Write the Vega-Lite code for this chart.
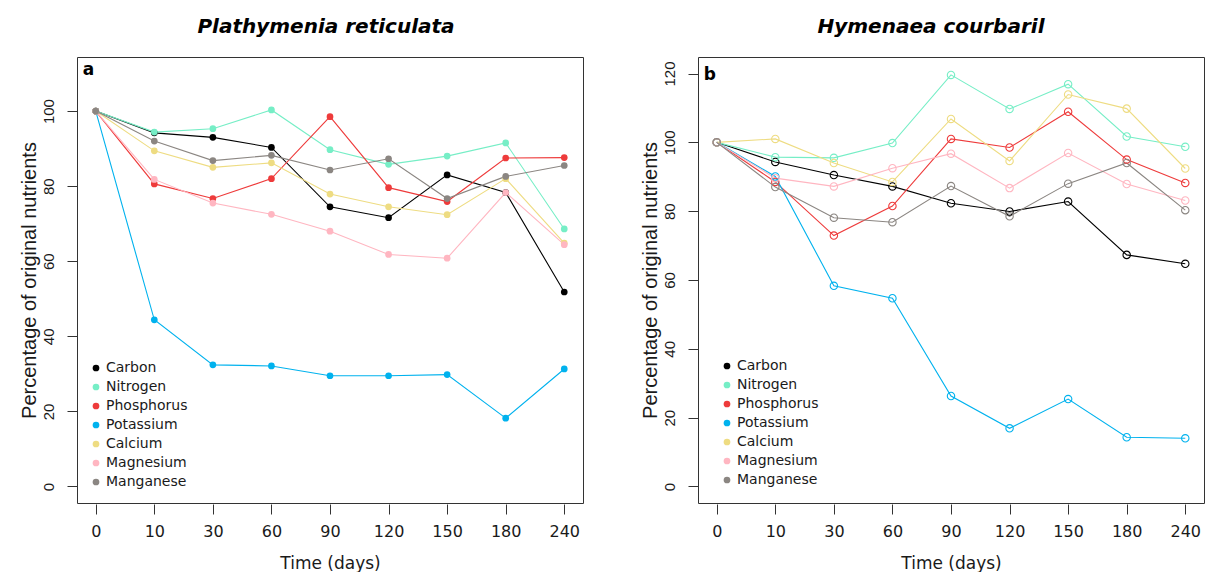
{
  "$schema": "https://vega.github.io/schema/vega-lite/v6.json",
  "background": "white",
  "padding": {"left": 18, "top": 16, "right": 2, "bottom": 2},
  "spacing": 55,
  "datasets": {
    "nut": [
      {"species": "Plathymenia reticulata", "nutrient": "Carbon", "day": 0, "value": 100},
      {"species": "Plathymenia reticulata", "nutrient": "Carbon", "day": 10, "value": 94.2},
      {"species": "Plathymenia reticulata", "nutrient": "Carbon", "day": 30, "value": 93.0},
      {"species": "Plathymenia reticulata", "nutrient": "Carbon", "day": 60, "value": 90.3},
      {"species": "Plathymenia reticulata", "nutrient": "Carbon", "day": 90, "value": 74.5},
      {"species": "Plathymenia reticulata", "nutrient": "Carbon", "day": 120, "value": 71.6},
      {"species": "Plathymenia reticulata", "nutrient": "Carbon", "day": 150, "value": 83.0},
      {"species": "Plathymenia reticulata", "nutrient": "Carbon", "day": 180, "value": 78.3},
      {"species": "Plathymenia reticulata", "nutrient": "Carbon", "day": 240, "value": 51.8},
      {"species": "Plathymenia reticulata", "nutrient": "Nitrogen", "day": 0, "value": 100},
      {"species": "Plathymenia reticulata", "nutrient": "Nitrogen", "day": 10, "value": 94.4},
      {"species": "Plathymenia reticulata", "nutrient": "Nitrogen", "day": 30, "value": 95.3},
      {"species": "Plathymenia reticulata", "nutrient": "Nitrogen", "day": 60, "value": 100.3},
      {"species": "Plathymenia reticulata", "nutrient": "Nitrogen", "day": 90, "value": 89.7},
      {"species": "Plathymenia reticulata", "nutrient": "Nitrogen", "day": 120, "value": 85.8},
      {"species": "Plathymenia reticulata", "nutrient": "Nitrogen", "day": 150, "value": 88.0},
      {"species": "Plathymenia reticulata", "nutrient": "Nitrogen", "day": 180, "value": 91.5},
      {"species": "Plathymenia reticulata", "nutrient": "Nitrogen", "day": 240, "value": 68.6},
      {"species": "Plathymenia reticulata", "nutrient": "Phosphorus", "day": 0, "value": 100},
      {"species": "Plathymenia reticulata", "nutrient": "Phosphorus", "day": 10, "value": 80.6},
      {"species": "Plathymenia reticulata", "nutrient": "Phosphorus", "day": 30, "value": 76.7},
      {"species": "Plathymenia reticulata", "nutrient": "Phosphorus", "day": 60, "value": 82.0},
      {"species": "Plathymenia reticulata", "nutrient": "Phosphorus", "day": 90, "value": 98.5},
      {"species": "Plathymenia reticulata", "nutrient": "Phosphorus", "day": 120, "value": 79.6},
      {"species": "Plathymenia reticulata", "nutrient": "Phosphorus", "day": 150, "value": 75.9},
      {"species": "Plathymenia reticulata", "nutrient": "Phosphorus", "day": 180, "value": 87.5},
      {"species": "Plathymenia reticulata", "nutrient": "Phosphorus", "day": 240, "value": 87.6},
      {"species": "Plathymenia reticulata", "nutrient": "Potassium", "day": 0, "value": 100},
      {"species": "Plathymenia reticulata", "nutrient": "Potassium", "day": 10, "value": 44.4},
      {"species": "Plathymenia reticulata", "nutrient": "Potassium", "day": 30, "value": 32.4},
      {"species": "Plathymenia reticulata", "nutrient": "Potassium", "day": 60, "value": 32.1},
      {"species": "Plathymenia reticulata", "nutrient": "Potassium", "day": 90, "value": 29.5},
      {"species": "Plathymenia reticulata", "nutrient": "Potassium", "day": 120, "value": 29.5},
      {"species": "Plathymenia reticulata", "nutrient": "Potassium", "day": 150, "value": 29.8},
      {"species": "Plathymenia reticulata", "nutrient": "Potassium", "day": 180, "value": 18.2},
      {"species": "Plathymenia reticulata", "nutrient": "Potassium", "day": 240, "value": 31.3},
      {"species": "Plathymenia reticulata", "nutrient": "Calcium", "day": 0, "value": 100},
      {"species": "Plathymenia reticulata", "nutrient": "Calcium", "day": 10, "value": 89.4},
      {"species": "Plathymenia reticulata", "nutrient": "Calcium", "day": 30, "value": 85.0},
      {"species": "Plathymenia reticulata", "nutrient": "Calcium", "day": 60, "value": 86.2},
      {"species": "Plathymenia reticulata", "nutrient": "Calcium", "day": 90, "value": 77.9},
      {"species": "Plathymenia reticulata", "nutrient": "Calcium", "day": 120, "value": 74.5},
      {"species": "Plathymenia reticulata", "nutrient": "Calcium", "day": 150, "value": 72.4},
      {"species": "Plathymenia reticulata", "nutrient": "Calcium", "day": 180, "value": 82.0},
      {"species": "Plathymenia reticulata", "nutrient": "Calcium", "day": 240, "value": 64.8},
      {"species": "Plathymenia reticulata", "nutrient": "Magnesium", "day": 0, "value": 100},
      {"species": "Plathymenia reticulata", "nutrient": "Magnesium", "day": 10, "value": 81.8},
      {"species": "Plathymenia reticulata", "nutrient": "Magnesium", "day": 30, "value": 75.5},
      {"species": "Plathymenia reticulata", "nutrient": "Magnesium", "day": 60, "value": 72.5},
      {"species": "Plathymenia reticulata", "nutrient": "Magnesium", "day": 90, "value": 68.0},
      {"species": "Plathymenia reticulata", "nutrient": "Magnesium", "day": 120, "value": 61.8},
      {"species": "Plathymenia reticulata", "nutrient": "Magnesium", "day": 150, "value": 60.8},
      {"species": "Plathymenia reticulata", "nutrient": "Magnesium", "day": 180, "value": 78.3},
      {"species": "Plathymenia reticulata", "nutrient": "Magnesium", "day": 240, "value": 64.4},
      {"species": "Plathymenia reticulata", "nutrient": "Manganese", "day": 0, "value": 100},
      {"species": "Plathymenia reticulata", "nutrient": "Manganese", "day": 10, "value": 92.0},
      {"species": "Plathymenia reticulata", "nutrient": "Manganese", "day": 30, "value": 86.8},
      {"species": "Plathymenia reticulata", "nutrient": "Manganese", "day": 60, "value": 88.2},
      {"species": "Plathymenia reticulata", "nutrient": "Manganese", "day": 90, "value": 84.3},
      {"species": "Plathymenia reticulata", "nutrient": "Manganese", "day": 120, "value": 87.3},
      {"species": "Plathymenia reticulata", "nutrient": "Manganese", "day": 150, "value": 76.7},
      {"species": "Plathymenia reticulata", "nutrient": "Manganese", "day": 180, "value": 82.6},
      {"species": "Plathymenia reticulata", "nutrient": "Manganese", "day": 240, "value": 85.5},
      {"species": "Hymenaea courbaril", "nutrient": "Carbon", "day": 0, "value": 100},
      {"species": "Hymenaea courbaril", "nutrient": "Carbon", "day": 10, "value": 94.3},
      {"species": "Hymenaea courbaril", "nutrient": "Carbon", "day": 30, "value": 90.5},
      {"species": "Hymenaea courbaril", "nutrient": "Carbon", "day": 60, "value": 87.2},
      {"species": "Hymenaea courbaril", "nutrient": "Carbon", "day": 90, "value": 82.3},
      {"species": "Hymenaea courbaril", "nutrient": "Carbon", "day": 120, "value": 79.9},
      {"species": "Hymenaea courbaril", "nutrient": "Carbon", "day": 150, "value": 82.8},
      {"species": "Hymenaea courbaril", "nutrient": "Carbon", "day": 180, "value": 67.3},
      {"species": "Hymenaea courbaril", "nutrient": "Carbon", "day": 240, "value": 64.7},
      {"species": "Hymenaea courbaril", "nutrient": "Nitrogen", "day": 0, "value": 100},
      {"species": "Hymenaea courbaril", "nutrient": "Nitrogen", "day": 10, "value": 95.7},
      {"species": "Hymenaea courbaril", "nutrient": "Nitrogen", "day": 30, "value": 95.5},
      {"species": "Hymenaea courbaril", "nutrient": "Nitrogen", "day": 60, "value": 99.8},
      {"species": "Hymenaea courbaril", "nutrient": "Nitrogen", "day": 90, "value": 119.6},
      {"species": "Hymenaea courbaril", "nutrient": "Nitrogen", "day": 120, "value": 109.7},
      {"species": "Hymenaea courbaril", "nutrient": "Nitrogen", "day": 150, "value": 116.9},
      {"species": "Hymenaea courbaril", "nutrient": "Nitrogen", "day": 180, "value": 101.7},
      {"species": "Hymenaea courbaril", "nutrient": "Nitrogen", "day": 240, "value": 98.7},
      {"species": "Hymenaea courbaril", "nutrient": "Phosphorus", "day": 0, "value": 100},
      {"species": "Hymenaea courbaril", "nutrient": "Phosphorus", "day": 10, "value": 88.5},
      {"species": "Hymenaea courbaril", "nutrient": "Phosphorus", "day": 30, "value": 72.9},
      {"species": "Hymenaea courbaril", "nutrient": "Phosphorus", "day": 60, "value": 81.5},
      {"species": "Hymenaea courbaril", "nutrient": "Phosphorus", "day": 90, "value": 101.0},
      {"species": "Hymenaea courbaril", "nutrient": "Phosphorus", "day": 120, "value": 98.5},
      {"species": "Hymenaea courbaril", "nutrient": "Phosphorus", "day": 150, "value": 108.9},
      {"species": "Hymenaea courbaril", "nutrient": "Phosphorus", "day": 180, "value": 95.0},
      {"species": "Hymenaea courbaril", "nutrient": "Phosphorus", "day": 240, "value": 88.2},
      {"species": "Hymenaea courbaril", "nutrient": "Potassium", "day": 0, "value": 100},
      {"species": "Hymenaea courbaril", "nutrient": "Potassium", "day": 10, "value": 90.1},
      {"species": "Hymenaea courbaril", "nutrient": "Potassium", "day": 30, "value": 58.3},
      {"species": "Hymenaea courbaril", "nutrient": "Potassium", "day": 60, "value": 54.7},
      {"species": "Hymenaea courbaril", "nutrient": "Potassium", "day": 90, "value": 26.3},
      {"species": "Hymenaea courbaril", "nutrient": "Potassium", "day": 120, "value": 16.9},
      {"species": "Hymenaea courbaril", "nutrient": "Potassium", "day": 150, "value": 25.4},
      {"species": "Hymenaea courbaril", "nutrient": "Potassium", "day": 180, "value": 14.3},
      {"species": "Hymenaea courbaril", "nutrient": "Potassium", "day": 240, "value": 14.0},
      {"species": "Hymenaea courbaril", "nutrient": "Calcium", "day": 0, "value": 100},
      {"species": "Hymenaea courbaril", "nutrient": "Calcium", "day": 10, "value": 101.0},
      {"species": "Hymenaea courbaril", "nutrient": "Calcium", "day": 30, "value": 94.0},
      {"species": "Hymenaea courbaril", "nutrient": "Calcium", "day": 60, "value": 88.5},
      {"species": "Hymenaea courbaril", "nutrient": "Calcium", "day": 90, "value": 106.8},
      {"species": "Hymenaea courbaril", "nutrient": "Calcium", "day": 120, "value": 94.6},
      {"species": "Hymenaea courbaril", "nutrient": "Calcium", "day": 150, "value": 113.9},
      {"species": "Hymenaea courbaril", "nutrient": "Calcium", "day": 180, "value": 109.8},
      {"species": "Hymenaea courbaril", "nutrient": "Calcium", "day": 240, "value": 92.4},
      {"species": "Hymenaea courbaril", "nutrient": "Magnesium", "day": 0, "value": 100},
      {"species": "Hymenaea courbaril", "nutrient": "Magnesium", "day": 10, "value": 89.6},
      {"species": "Hymenaea courbaril", "nutrient": "Magnesium", "day": 30, "value": 87.2},
      {"species": "Hymenaea courbaril", "nutrient": "Magnesium", "day": 60, "value": 92.5},
      {"species": "Hymenaea courbaril", "nutrient": "Magnesium", "day": 90, "value": 96.7},
      {"species": "Hymenaea courbaril", "nutrient": "Magnesium", "day": 120, "value": 86.7},
      {"species": "Hymenaea courbaril", "nutrient": "Magnesium", "day": 150, "value": 96.9},
      {"species": "Hymenaea courbaril", "nutrient": "Magnesium", "day": 180, "value": 87.9},
      {"species": "Hymenaea courbaril", "nutrient": "Magnesium", "day": 240, "value": 83.1},
      {"species": "Hymenaea courbaril", "nutrient": "Manganese", "day": 0, "value": 100},
      {"species": "Hymenaea courbaril", "nutrient": "Manganese", "day": 10, "value": 87.0},
      {"species": "Hymenaea courbaril", "nutrient": "Manganese", "day": 30, "value": 78.1},
      {"species": "Hymenaea courbaril", "nutrient": "Manganese", "day": 60, "value": 76.8},
      {"species": "Hymenaea courbaril", "nutrient": "Manganese", "day": 90, "value": 87.3},
      {"species": "Hymenaea courbaril", "nutrient": "Manganese", "day": 120, "value": 78.5},
      {"species": "Hymenaea courbaril", "nutrient": "Manganese", "day": 150, "value": 88.0},
      {"species": "Hymenaea courbaril", "nutrient": "Manganese", "day": 180, "value": 94.0},
      {"species": "Hymenaea courbaril", "nutrient": "Manganese", "day": 240, "value": 80.3}
    ],
    "tags": [
      {"species": "Plathymenia reticulata", "tag": "a"},
      {"species": "Hymenaea courbaril", "tag": "b"}
    ]
  },
  "hconcat": [
    {
      "width": 506,
      "height": 446,
      "title": {"text": "Plathymenia reticulata", "dx": -4},
      "layer": [
        {
          "data": {"name": "nut"},
          "transform": [{"filter": "datum.species === 'Plathymenia reticulata'"}],
          "mark": {"type": "line", "strokeWidth": 1.1},
          "encoding": {
            "x": {"field": "day", "type": "ordinal", "title": "Time (days)",
                  "scale": {"type": "point", "padding": 0.32, "domain": [0, 10, 30, 60, 90, 120, 150, 180, 240]}},
            "y": {"field": "value", "type": "quantitative", "title": "Percentage of original nutrients",
                  "scale": {"domain": [-4.4, 114.4], "nice": false, "zero": false},
                  "axis": {"values": [0, 20, 40, 60, 80, 100]}},
            "stroke": {"field": "nutrient", "type": "nominal", "legend": null,
                       "scale": {"domain": ["Carbon", "Nitrogen", "Phosphorus", "Potassium", "Calcium", "Magnesium", "Manganese"],
                                 "range": ["#000000", "#76EEC6", "#EE3B3B", "#00B2EE", "#EEDC82", "#FFB6C1", "#8B8682"]}}
          }
        },
        {
          "data": {"name": "nut"},
          "transform": [{"filter": "datum.species === 'Plathymenia reticulata'"}],
          "mark": {"type": "point", "filled": true, "size": 45, "opacity": 1},
          "encoding": {
            "x": {"field": "day", "type": "ordinal"},
            "y": {"field": "value", "type": "quantitative"},
            "color": {"field": "nutrient", "type": "nominal",
                      "scale": {"domain": ["Carbon", "Nitrogen", "Phosphorus", "Potassium", "Calcium", "Magnesium", "Manganese"],
                                "range": ["#000000", "#76EEC6", "#EE3B3B", "#00B2EE", "#EEDC82", "#FFB6C1", "#8B8682"]},
                      "legend": {"orient": "none", "legendX": 12, "legendY": 304}}
          }
        },
        {
          "data": {"name": "tags"},
          "transform": [{"filter": "datum.species === 'Plathymenia reticulata'"}],
          "mark": {"type": "text", "align": "left", "baseline": "alphabetic", "dx": -13, "fontSize": 17, "fontWeight": "bold", "font": "DejaVu Sans"},
          "encoding": {
            "x": {"datum": 0, "type": "ordinal"},
            "y": {"datum": 109.6, "type": "quantitative"},
            "text": {"field": "tag"}
          }
        }
      ]
    },
    {
      "width": 506,
      "height": 446,
      "title": {"text": "Hymenaea courbaril", "dx": -20},
      "layer": [
        {
          "data": {"name": "nut"},
          "transform": [{"filter": "datum.species === 'Hymenaea courbaril'"}],
          "mark": {"type": "line", "strokeWidth": 1.1},
          "encoding": {
            "x": {"field": "day", "type": "ordinal", "title": "Time (days)",
                  "scale": {"type": "point", "padding": 0.32, "domain": [0, 10, 30, 60, 90, 120, 150, 180, 240]}},
            "y": {"field": "value", "type": "quantitative", "title": "Percentage of original nutrients",
                  "scale": {"domain": [-4.8, 124.8], "nice": false, "zero": false},
                  "axis": {"values": [0, 20, 40, 60, 80, 100, 120]}},
            "stroke": {"field": "nutrient", "type": "nominal", "legend": null,
                       "scale": {"domain": ["Carbon", "Nitrogen", "Phosphorus", "Potassium", "Calcium", "Magnesium", "Manganese"],
                                 "range": ["#000000", "#76EEC6", "#EE3B3B", "#00B2EE", "#EEDC82", "#FFB6C1", "#8B8682"]}}
          }
        },
        {
          "data": {"name": "nut"},
          "transform": [{"filter": "datum.species === 'Hymenaea courbaril'"}],
          "mark": {"type": "point", "filled": false, "size": 55, "strokeWidth": 1.1, "opacity": 1},
          "encoding": {
            "x": {"field": "day", "type": "ordinal"},
            "y": {"field": "value", "type": "quantitative"},
            "stroke": {"field": "nutrient", "type": "nominal", "legend": null}
          }
        },
        {
          "data": {"name": "nut"},
          "transform": [{"filter": "datum.species === 'Hymenaea courbaril'"}],
          "mark": {"type": "point", "filled": true, "size": 45, "opacity": 0},
          "encoding": {
            "x": {"field": "day", "type": "ordinal"},
            "y": {"field": "value", "type": "quantitative"},
            "color": {"field": "nutrient", "type": "nominal",
                      "scale": {"domain": ["Carbon", "Nitrogen", "Phosphorus", "Potassium", "Calcium", "Magnesium", "Manganese"],
                                "range": ["#000000", "#76EEC6", "#EE3B3B", "#00B2EE", "#EEDC82", "#FFB6C1", "#8B8682"]},
                      "legend": {"orient": "none", "legendX": 22, "legendY": 302, "symbolOpacity": 1}}
          }
        },
        {
          "data": {"name": "tags"},
          "transform": [{"filter": "datum.species === 'Hymenaea courbaril'"}],
          "mark": {"type": "text", "align": "left", "baseline": "alphabetic", "dx": -13, "fontSize": 17, "fontWeight": "bold", "font": "DejaVu Sans"},
          "encoding": {
            "x": {"datum": 0, "type": "ordinal"},
            "y": {"datum": 118.1, "type": "quantitative"},
            "text": {"field": "tag"}
          }
        }
      ]
    }
  ],
  "resolve": {"legend": {"color": "independent"}},
  "config": {
    "font": "DejaVu Sans",
    "view": {"stroke": "#333333", "strokeWidth": 1},
    "title": {"font": "DejaVu Sans", "fontSize": 20, "fontStyle": "italic", "fontWeight": "bold", "color": "#000000", "anchor": "middle", "baseline": "alphabetic", "offset": 20},
    "axis": {"grid": false, "domain": false, "tickColor": "#333333", "tickWidth": 1, "labelColor": "#1a1a1a", "titleColor": "#1a1a1a", "titleFontWeight": "normal"},
    "axisX": {"labelFont": "DejaVu Sans", "labelFontSize": 16, "labelAngle": 0, "tickSize": 10, "offset": 1, "labelPadding": 9, "titleFont": "DejaVu Sans", "titleFontSize": 17, "titlePadding": 16},
    "axisY": {"labelFont": "Liberation Sans", "labelFontSize": 15, "labelAngle": -90, "labelAlign": "center", "labelBaseline": "bottom", "tickSize": 10, "labelPadding": 11, "titleFont": "Liberation Sans", "titleFontSize": 20, "titlePadding": 2},
    "legend": {"title": null, "padding": 0, "labelFont": "DejaVu Sans", "labelFontSize": 14, "labelColor": "#1a1a1a", "symbolType": "circle", "symbolSize": 45, "rowPadding": 5, "labelOffset": 3, "symbolStrokeWidth": 0}
  }
}
